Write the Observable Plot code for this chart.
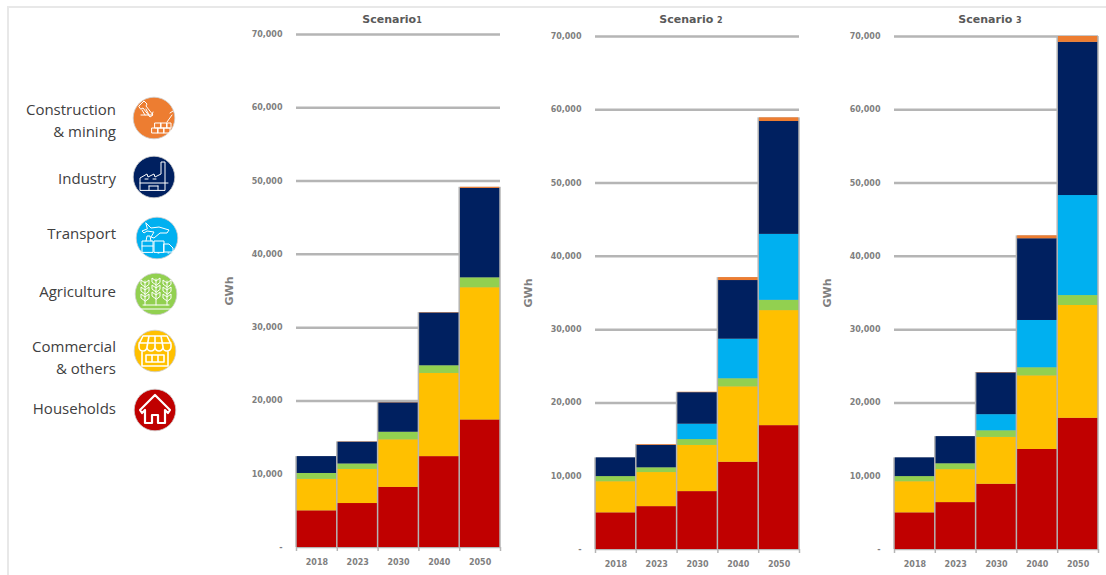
<!DOCTYPE html>
<html>
<head>
<meta charset="utf-8">
<script src="https://cdn.jsdelivr.net/npm/d3@7"></script>
<script src="https://cdn.jsdelivr.net/npm/@observablehq/plot@0.6"></script>
<style>
  html, body { margin: 0; padding: 0; background: #fff; overflow: hidden; }
  #page { position: relative; width: 1106px; height: 575px; overflow: hidden; }
  #page > svg, #page > div { position: absolute; }
  .frame { background: #e8e8e8; }
  .title { width: 200px; text-align: center; font: 700 11px "DejaVu Sans", sans-serif; color: #595959; white-space: pre; }
  .title span { font-size: 8px; }
  .label { width: 120px; text-align: right; font: 15px/22px "Open Sans", sans-serif; color: #404040; }
</style>
</head>
<body>
<div id="page"></div>
<script>
// Electricity demand by sector, GWh per period
const years = ["2018", "2023", "2030", "2040", "2050"];
const sectors = ["Households", "Commercial & others", "Agriculture", "Transport", "Industry", "Construction & mining"];
const colors = ["#c00000", "#ffc000", "#92d050", "#00b0f0", "#002060", "#ed7d31"];

const scenario1Households   = [5000, 6000, 8200, 12400, 17400];
const scenario1Commercial   = [4300, 4650, 6500, 11350, 18050];
const scenario1Agriculture  = [800, 750, 1030, 1050, 1350];
const scenario1Transport    = [0, 0, 0, 0, 0];
const scenario1Industry     = [2300, 2970, 4000, 7200, 12200];
const scenario1Construction = [0, 40, 40, 50, 150];

const scenario2Households   = [5000, 5850, 7900, 11900, 16900];
const scenario2Commercial   = [4250, 4650, 6300, 10300, 15700];
const scenario2Agriculture  = [700, 650, 800, 1100, 1400];
const scenario2Transport    = [0, 0, 2100, 5400, 9000];
const scenario2Industry     = [2550, 3050, 4300, 8000, 15400];
const scenario2Construction = [0, 100, 50, 400, 500];

const scenario3Households   = [5000, 6400, 8900, 13650, 17900];
const scenario3Commercial   = [4250, 4500, 6400, 10050, 15400];
const scenario3Agriculture  = [700, 800, 900, 1100, 1350];
const scenario3Transport    = [0, 0, 2200, 6450, 13650];
const scenario3Industry     = [2550, 3700, 5700, 11150, 20900];
const scenario3Construction = [0, 0, 50, 400, 800];

const scenarios = [
  {name: "Scenario", suffix: "1", left: 220, bottom: 28, series: [scenario1Households, scenario1Commercial, scenario1Agriculture, scenario1Transport, scenario1Industry, scenario1Construction]},
  {name: "Scenario ", suffix: "2", left: 519, bottom: 26, series: [scenario2Households, scenario2Commercial, scenario2Agriculture, scenario2Transport, scenario2Industry, scenario2Construction]},
  {name: "Scenario ", suffix: "3", left: 818, bottom: 26, series: [scenario3Households, scenario3Commercial, scenario3Agriculture, scenario3Transport, scenario3Industry, scenario3Construction]}
];

const page = document.getElementById("page");
const axisGrey = "#b5b5b5";

// Cumulative segments for one scenario, bottom sector first
function stackRows(series) {
  const rows = [];
  years.forEach((year, i) => {
    let base = 0;
    series.forEach((values, s) => {
      rows.push({i, sector: sectors[s], y1: base, y2: base + values[i]});
      base += values[i];
    });
  });
  return rows.filter(d => d.y2 > d.y1);
}

function panel({series, left, bottom}) {
  const rows = stackRows(series);
  const totals = years.map((year, i) => ({i, total: d3.sum(series, v => v[i])}));
  const chart = Plot.plot({
    width: 285,
    height: 575,
    marginLeft: 76,
    marginRight: 5,
    marginTop: 575 - bottom - 513,
    marginBottom: bottom,
    style: {fontFamily: "DejaVu Sans", fontSize: "8px", fontWeight: 700, color: "#7f7f7f", background: "transparent"},
    x: {domain: [0, years.length]},
    y: {domain: [0, 70000]},
    color: {domain: sectors, range: colors},
    marks: [
      Plot.ruleY(d3.range(10000, 70001, 10000), {stroke: axisGrey, strokeWidth: 2.5}),
      Plot.ruleY([0], {stroke: axisGrey, strokeWidth: 1.5}),
      Plot.rect(totals, {x1: "i", x2: d => d.i + 1, y1: 0, y2: "total", fill: axisGrey, insetLeft: -0.75, insetRight: -0.75}),
      Plot.rect(rows, {x1: "i", x2: d => d.i + 1, y1: "y1", y2: "y2", fill: "sector", insetLeft: 0.75, insetRight: 0.75}),
      Plot.axisY({ticks: d3.range(0, 70001, 10000), tickSize: 0, tickPadding: 14, label: null, tickFormat: d => d === 0 ? "-" : d3.format(",")(d)}),
      Plot.axisX({ticks: d3.range(0, years.length + 1), tickSize: 4, tickFormat: () => "", label: null, stroke: axisGrey, strokeWidth: 1.5}),
      Plot.axisX({ticks: years.map((y, i) => i + 0.5), tickSize: 0, tickPadding: 12, label: null, tickFormat: d => years[d - 0.5]}),
      Plot.text(["GWh"], {frameAnchor: "left", textAnchor: "middle", rotate: -90, dx: -67, fontSize: 11, fill: "#7f7f7f"})
    ]
  });
  chart.style.left = left + "px";
  chart.style.top = "0px";
  page.appendChild(chart);
}

scenarios.forEach(panel);

// Scenario headings, with the number set smaller than the word
scenarios.forEach(({name, suffix, left}) => {
  const t = document.createElement("div");
  t.className = "title";
  t.style.left = (left + 72) + "px";
  t.style.top = "13px";
  t.textContent = name;
  const n = document.createElement("span");
  n.textContent = suffix;
  t.appendChild(n);
  page.appendChild(t);
});

// Page rules along the top and left
[[7, 6, 1099, 2], [7, 6, 2, 569]].forEach(([x, y, w, h]) => {
  const r = document.createElement("div");
  r.className = "frame";
  Object.assign(r.style, {left: x + "px", top: y + "px", width: w + "px", height: h + "px"});
  page.appendChild(r);
});

// One three-tier plant column for the agriculture badge
const plant = (x, top) => `M${x} ${top}v${11 - top}` +
  [0, 7, 14].map(k => `M${x} ${top + k + 6}l-4-3v-4l4 3 4-3v4z`).join("");

// Sector key: labels with line-art badges, top of the stack first
const glyphs = {
  "Construction & mining": `<path d="M-15-12l5-5 3 3-1 2 7 9-3 2-7-9-2 1zM-13-3h11l1-3M-12-8l3 5M-8-9l3 6"/><path d="M-2 10h6v5h-6zM4 10h6v5H4zM10 10h6v5h-6zM1 5h6v5H1zM7 5h6v5H7zM13 5h4v5h-4zM13 4l5-7M16-5l3-2"/>`,
  "Industry": `<path d="M-14 13V1l7-4 1 3 6-3 1 3 6-3V-15h4V13zM-14 6h28M-9 2h3M-1 2h3M-5 9h9M-5 13V9M4 13V9"/>`,
  "Transport": `<path d="M-11-15l5 5 8-1 10 3-2 3H3l-6 5-3-1 3-5-7-1-3 2-2-2 5-2zM-15 14V3h11v11zM-15 8h11M-11 3l1-5h3l1 5"/><path d="M-3 14V3h10v11zM7 6h5l4 4v4H7zM1 15h1M11 15h1"/>`,
  "Agriculture": `<path d="${plant(-11, -13)}${plant(0, -15)}${plant(11, -13)}M-16 15h32M-13 11h26"/>`,
  "Commercial & others": `<path d="M-12-15h24l4 8v3a3 3 0 0 1-8 0 4 4 0 0 1-8 0 4 4 0 0 1-8 0 3 3 0 0 1-8 0v-3zM-6-15l-2 11M0-15v11M6-15l2 11M-16-8h32M-13 0v15h26V0M-9 4h18v7H-9zM-3 4v7M3 4v7"/>`,
  "Households": `<path d="M0-15L-15 0l2 3 3-3v13h7V5h6v8h7V0l3 3 2-3z"/>`
};
const keyEntries = [
  {sector: "Construction & mining", lines: ["Construction", "& mining"], textY: 98, cx: 154, cy: 118},
  {sector: "Industry", lines: ["Industry"], textY: 167, cx: 154, cy: 177},
  {sector: "Transport", lines: ["Transport"], textY: 222, cx: 157, cy: 238},
  {sector: "Agriculture", lines: ["Agriculture"], textY: 280, cx: 156, cy: 294},
  {sector: "Commercial & others", lines: ["Commercial", "& others"], textY: 335, cx: 155, cy: 351},
  {sector: "Households", lines: ["Households"], textY: 397, cx: 155, cy: 410}
];
keyEntries.forEach(({sector, lines, textY, cx, cy}) => {
  const label = document.createElement("div");
  label.className = "label";
  label.style.left = "-4px";
  label.style.top = textY + "px";
  label.innerHTML = lines.join("<br>").replace(/&(?!lt|gt|amp)/g, "&amp;");
  page.appendChild(label);
  const fill = colors[sectors.indexOf(sector)];
  const badge = document.createElementNS("http://www.w3.org/2000/svg", "svg");
  badge.setAttribute("width", 44);
  badge.setAttribute("height", 44);
  badge.setAttribute("viewBox", "-22 -22 44 44");
  badge.style.left = (cx - 22) + "px";
  badge.style.top = (cy - 22) + "px";
  const thick = sector === "Households" ? 2.2 : sector === "Commercial & others" ? 1.6 : 1;
  badge.innerHTML = `<circle r="20.8" fill="${fill}" stroke="#cfcfcf" stroke-width="0.8"/>` +
    `<g fill="none" stroke="#fff" stroke-width="${thick}" stroke-linejoin="round" stroke-linecap="round">${glyphs[sector]}</g>`;
  page.appendChild(badge);
});
</script>
</body>
</html>
